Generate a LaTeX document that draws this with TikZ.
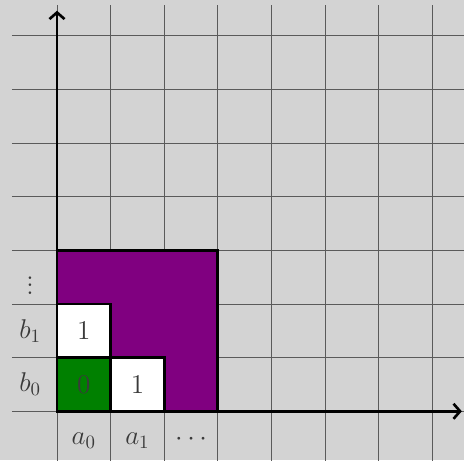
\documentclass[tikz,border=0pt]{standalone}
\usetikzlibrary{arrows.meta}
\definecolor{bgGray}{HTML}{D3D3D3}
\definecolor{cellPurple}{HTML}{800080}
\definecolor{cellGreen}{HTML}{008000}
\definecolor{textGray}{HTML}{3A3A3A}
\definecolor{gridGray}{HTML}{5A5A5A}
\begin{document}
\begin{tikzpicture}[x=1cm,y=1cm,>={Straight Barb[length=3.5pt,width=8pt]}]
    \tikzstyle{cell}=[draw,line width=1.5pt,minimum size=1cm,inner sep=0pt,outer sep=0pt,anchor=south west,text=textGray,font=\Large]
    \tikzstyle{lbl}=[text=textGray,font=\Large]
    \tikzstyle{axis}=[->,line width=1.4pt]
    \fill[bgGray] (-1.063,-0.914) rectangle (7.59,7.67);
    \useasboundingbox (-1.063,-0.914) rectangle (7.59,7.67);
    \draw[gridGray,line width=0.5pt] (-0.84,-1) grid (7.7,7.57);

    \node[cell,fill=cellPurple,minimum size=3cm] (region) at (0,0) {};
    \node[cell,fill=cellGreen] (c00) at (0,0) {0};
    \node[cell,fill=white] (c10) at (1,0) {1};
    \node[cell,fill=white] (c01) at (0,1) {1};

    \coordinate (O) at (0,0);
    \coordinate (xend) at (7.55,0);
    \coordinate (yend) at (0,7.47);
    \draw[axis] (O) -- (xend);
    \draw[axis] (O) -- (yend);

    \node[lbl] (a0) at (0.5,-0.55) {$a_0$};
    \node[lbl] (a1) at (1.5,-0.55) {$a_1$};
    \node[lbl] (adots) at (2.5,-0.52) {$\cdots$};
    \node[lbl] (b0) at (-0.5,0.5) {$b_0$};
    \node[lbl] (b1) at (-0.5,1.5) {$b_1$};
    \node[lbl] (bdots) at (-0.5,2.45) {$\vdots$};
\end{tikzpicture}
\end{document}
